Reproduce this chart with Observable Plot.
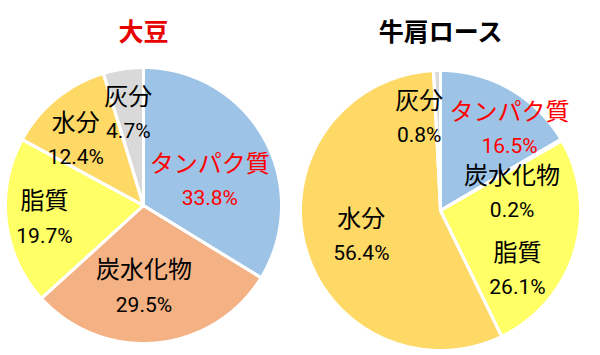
<!DOCTYPE html>
<html>
<head>
<meta charset="utf-8">
<script src="https://cdn.jsdelivr.net/npm/d3@7"></script>
<script src="https://cdn.jsdelivr.net/npm/@observablehq/plot@0.6"></script>
<style>
  html, body { margin: 0; padding: 0; background: #fff; }
</style>
</head>
<body>
<div id="chart"></div>
<script>
// ---- data ----
const categories = ["タンパク質", "炭水化物", "脂質", "水分", "灰分"];
const soyValues  = [33.8, 29.5, 19.7, 12.4, 4.7];   // 大豆
const beefValues = [16.5, 0.2, 26.1, 56.4, 0.8];    // 牛肩ロース
const chartTitles = ["大豆", "牛肩ロース"];

// ---- style / layout ----
const sliceColors = ["#9DC3E6", "#F4B183", "#FFFF66", "#FFD966", "#D9D9D9"];
const highlightCategory = "タンパク質";
const pies = [
  { title: chartTitles[0], values: soyValues,  cx: 143, cy: 205, r: 138, titleColor: "#E60000",
    nudges: [[-12, 20], [-8, -7], [-10, 2.5], [-11, 4], [-2, -2.5]] },
  { title: chartTitles[1], values: beefValues, cx: 440, cy: 210, r: 140, titleColor: "#000000",
    nudges: [[24, -2], [-7, 29], [-10, 33], [9, 3], [-19, -1]] }
];
const titleY = 32;
const labelRadius = 0.65;

// ---- build geometry from the data with d3.pie ----
const slicePoints = [];
const labels = [];
const titles = [];
pies.forEach((p, pi) => {
  const arcs = d3.pie().sort(null).value(d => d)(p.values);
  titles.push({ text: p.title, x: p.cx, y: titleY, color: p.titleColor });
  arcs.forEach((a, i) => {
    const key = pi + "-" + i;
    const cat = categories[i];
    const pt = (ang, rr) => ({ key, category: cat, x: p.cx + rr * Math.sin(ang), y: p.cy - rr * Math.cos(ang) });
    slicePoints.push(pt(0, 0));
    const n = Math.max(2, Math.ceil((a.endAngle - a.startAngle) / 0.01));
    for (let k = 0; k <= n; k++) {
      slicePoints.push(pt(a.startAngle + (a.endAngle - a.startAngle) * k / n, p.r));
    }
    slicePoints.push(pt(0, 0));
    const mid = (a.startAngle + a.endAngle) / 2;
    const lp = pt(mid, p.r * labelRadius);
    labels.push({
      name: cat,
      pct: p.values[i].toFixed(1) + "%",
      x: lp.x + p.nudges[i][0],
      y: lp.y + p.nudges[i][1],
      hi: cat === highlightCategory
    });
  });
});

const nameFont = "'Noto Sans CJK JP', 'Noto Sans', sans-serif";
const pctFont = "Roboto, 'Liberation Sans', sans-serif";

const chart = Plot.plot({
  width: 600,
  height: 355,
  margin: 0,
  x: { domain: [0, 600], range: [0, 600], axis: null },
  y: { domain: [0, 355], range: [0, 355], axis: null },
  color: { domain: categories, range: sliceColors },
  style: { background: "#fff", overflow: "visible" },
  marks: [
    Plot.line(slicePoints, { x: "x", y: "y", z: "key", fill: "category", stroke: "none" }),
    Plot.line(slicePoints, { x: "x", y: "y", z: "key", stroke: "#fff", strokeWidth: 3, strokeLinejoin: "round", fill: "none" }),
    // titles
    Plot.text(titles.filter(t => t.color !== "#000000"), { x: "x", y: "y", text: "text", fill: titles[0].color, fontSize: 25, fontWeight: "bold", fontFamily: nameFont }),
    Plot.text(titles.filter(t => t.color === "#000000"), { x: "x", y: "y", text: "text", fill: "#000", fontSize: 25, fontWeight: "bold", fontFamily: nameFont }),
    // category names
    Plot.text(labels, { filter: d => d.hi, x: "x", y: "y", text: "name", dy: -17, fill: "#FF0000", fontSize: 24, fontFamily: nameFont }),
    Plot.text(labels, { filter: d => !d.hi, x: "x", y: "y", text: "name", dy: -17, fill: "#000", fontSize: 24, fontFamily: nameFont }),
    // percentages
    Plot.text(labels, { filter: d => d.hi, x: "x", y: "y", text: "pct", dy: 17, fill: "#FF0000", fontSize: 21, fontFamily: pctFont }),
    Plot.text(labels, { filter: d => !d.hi, x: "x", y: "y", text: "pct", dy: 17, fill: "#000", fontSize: 21, fontFamily: pctFont })
  ]
});
document.getElementById("chart").appendChild(chart);
</script>
</body>
</html>
